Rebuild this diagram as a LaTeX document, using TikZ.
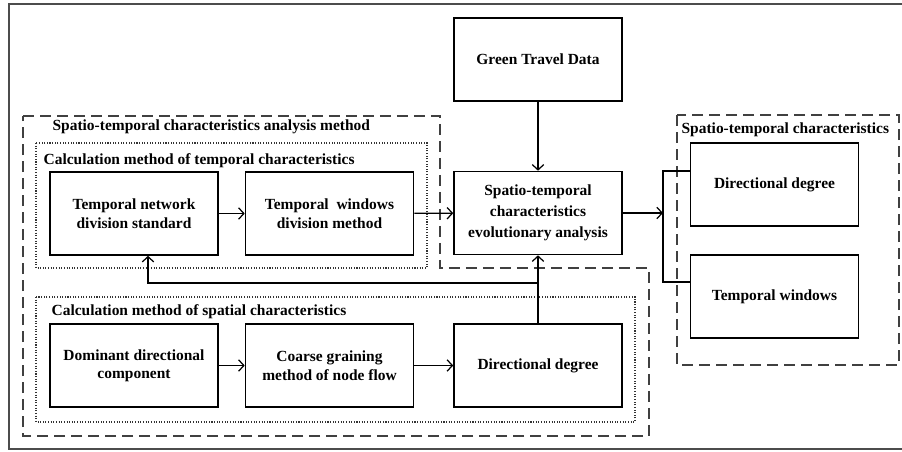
\documentclass[tikz,border=0pt]{standalone}
\usepackage{fontspec}
\setmainfont{Liberation Serif}
\usetikzlibrary{arrows.meta}
\begin{document}
\begin{tikzpicture}[
    box/.style={draw, line width=0.9pt, minimum width=3.36cm, minimum height=1.66cm,
                inner sep=0pt, align=center, font=\fontsize{8.8}{10.5}\selectfont\bfseries},
    ttl/.style={anchor=west, inner sep=0pt, font=\fontsize{8.8}{10.5}\selectfont\bfseries},
    grp/.style={draw=black!75, line width=1pt, dash pattern=on 0.22cm off 0.12cm},
    sub/.style={draw=black!80, line width=0.8pt, dash pattern=on 0.6pt off 0.9pt},
    >={Straight Barb[length=3pt,width=6.5pt]}, line width=0.7pt]
    \useasboundingbox (0,0) rectangle (18.04,9.02);
    % outer frame (right side cut off)
    \draw[black!70, line width=1.3pt] (18.2,8.94) -- (0.18,8.94) -- (0.18,0.04) -- (18.2,0.04);
    % groups
    \draw[grp] (0.46,6.70) -- (8.80,6.70) -- (8.80,3.66) -- (12.98,3.66) -- (12.98,0.30) -- (0.46,0.30) -- cycle;
    \node[ttl] (tana) at (1.04,6.48) {Spatio-temporal characteristics analysis method};
    \draw[sub] (0.72,6.16) rectangle (8.54,3.66);
    \node[ttl] (ttmp) at (0.86,5.80) {Calculation method of temporal characteristics};
    \draw[sub] (0.72,3.08) rectangle (12.70,0.58);
    \node[ttl] (tspa) at (1.02,2.78) {Calculation method of spatial characteristics};
    \draw[grp] (13.54,6.72) rectangle (17.98,1.72);
    \node[ttl] (tchr) at (13.62,6.42) {Spatio-temporal characteristics};
    % boxes
    \node[box] (tnet) at (2.68,4.75) {Temporal network\\division standard};
    \node[box] (twin) at (6.59,4.75) {Temporal~ windows\\division method};
    \node[box] (green) at (10.76,7.83) {Green Travel Data};
    \node[box, font=\fontsize{8.8}{12}\selectfont\bfseries] (stc) at (10.76,4.76) {Spatio-temporal\\characteristics\\evolutionary analysis};
    \node[box] (rdir) at (15.49,5.33) {Directional degree};
    \node[box] (rtw) at (15.49,3.09) {Temporal windows};
    \node[box] (dom) at (2.68,1.71) {Dominant directional\\component};
    \node[box] (coarse) at (6.59,1.71) {Coarse graining\\method of node flow};
    \node[box] (sdir) at (10.76,1.71) {Directional degree};
    % connectors
    \coordinate (br1) at (13.26,5.60);
    \coordinate (br2) at (13.26,3.38);
    \coordinate (fb) at (2.96,3.36);
    \draw[->] (tnet) -- (twin);
    \draw[->] (twin) -- (stc);
    \draw[->] (green) -- (stc);
    \draw[->] (stc.east) -- (br1 |- stc.east);
    \draw (rdir.west |- br1) -- (br1) -- (br2) -- (rtw.west |- br2);
    \draw[->] (dom) -- (coarse);
    \draw[->] (coarse) -- (sdir);
    \draw[->] (sdir) -- (stc);
    \draw[->] (sdir.north |- fb) -- (fb) -- (fb |- tnet.south);
\end{tikzpicture}
\end{document}
